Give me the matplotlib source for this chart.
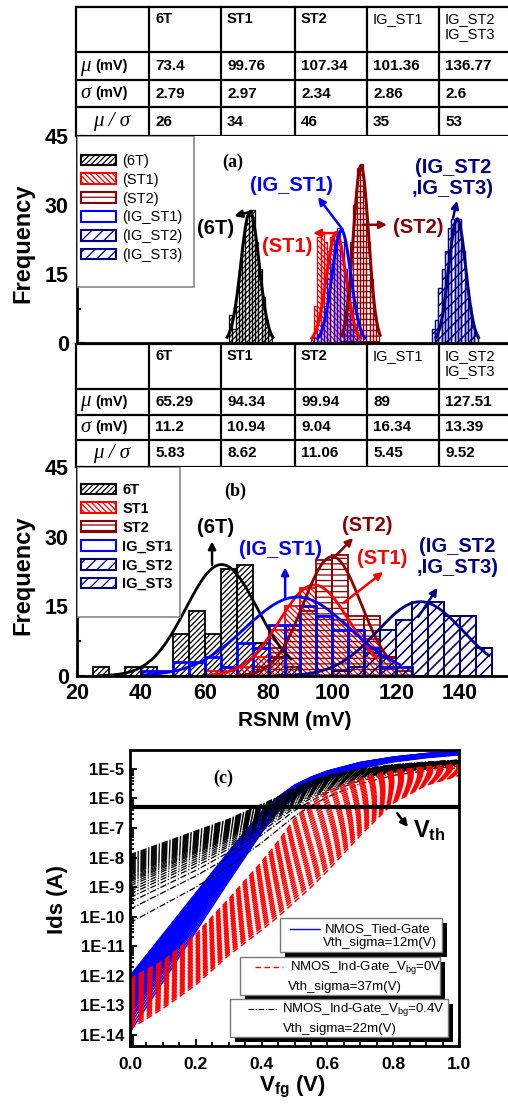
import numpy as np
import matplotlib.pyplot as plt
from matplotlib.patches import Patch, Rectangle
from matplotlib.ticker import (MultipleLocator, FixedLocator, NullFormatter,
                               FuncFormatter)

plt.rcParams['font.family'] = ['Liberation Sans', 'DejaVu Sans']
plt.rcParams['mathtext.fontset'] = 'custom'
plt.rcParams['mathtext.rm'] = 'Liberation Sans'
plt.rcParams['mathtext.it'] = 'Liberation Sans:italic'
plt.rcParams['mathtext.bf'] = 'Liberation Sans:bold'
plt.rcParams['hatch.linewidth'] = 0.9

# ==========================================
# DATA
# ==========================================

groups = ['6T', 'ST1', 'ST2', 'IG_ST1', 'IG_ST2', 'IG_ST3']
table_head = ['6T', 'ST1', 'ST2', 'IG_ST1', 'IG_ST2\nIG_ST3']

# table (a)
mu_a = ['73.4', '99.76', '107.34', '101.36', '136.77']
sigma_a = ['2.79', '2.97', '2.34', '2.86', '2.6']
ratio_a = ['26', '34', '46', '35', '53']

# table (b)
mu_b = ['65.29', '94.34', '99.94', '89', '127.51']
sigma_b = ['11.2', '10.94', '9.04', '16.34', '13.39']
ratio_b = ['5.83', '8.62', '11.06', '5.45', '9.52']

# histograms (a), 1 mV bins (left edge, count)
a_6t_x = [67, 68, 69, 70, 71, 72, 73, 74, 75, 76, 77, 78, 79]
a_6t_n = [6, 3, 8, 16, 20, 26, 29, 29, 22, 16, 10, 5, 2]
a_st1_x = [92, 93, 94, 95, 96, 97, 98, 99, 100, 101, 102, 103, 104, 105, 106]
a_st1_n = [1, 8, 23, 24, 22, 20, 23, 24, 22, 18, 12, 8, 5, 3, 1]
a_st2_x = [101, 102, 103, 104, 105, 106, 107, 108, 109, 110, 111, 112]
a_st2_n = [2, 6, 12, 22, 30, 38, 39, 30, 22, 14, 6, 3]
a_igst1_x = [93, 94, 95, 96, 97, 98, 99, 100, 101, 102, 103, 104, 105, 106]
a_igst1_n = [1, 2, 4, 8, 14, 20, 24, 25, 22, 16, 11, 6, 3, 1]
a_igst2_x = [129, 130, 131, 132, 133, 134, 135, 136, 137, 138, 139, 140, 141, 142]
a_igst2_n = [3, 5, 12, 16, 20, 25, 27, 27, 27, 20, 12, 8, 4, 2]

# histograms (b), 5 mV bins (left edge, count)
b_6t_x = [25, 35, 40, 50, 55, 60, 65, 70, 75, 80, 85]
b_6t_n = [2, 2, 2, 9, 14, 9, 23, 24, 7, 4, 2]
b_st1_x = [60, 65, 70, 75, 80, 85, 90, 95, 100, 105, 110, 115, 120]
b_st1_n = [1, 2, 2, 4, 10, 15, 19, 13, 12, 10, 8, 4, 2]
b_st2_x = [75, 80, 85, 90, 95, 100, 105, 110, 115, 120]
b_st2_n = [2, 6, 10, 14, 25, 26, 13, 13, 4, 1]
b_igst1_x = [40, 45, 50, 55, 60, 65, 70, 75, 80, 85, 90, 95, 100, 105, 110, 115, 120]
b_igst1_n = [1, 1, 3, 3, 4, 2, 7, 6, 11, 11, 15, 13, 10, 10, 6, 2, 2]
b_igst2_x = [100, 105, 110, 115, 120, 125, 130, 135, 140, 145]
b_igst2_n = [1, 2, 5, 10, 12, 16, 16, 13, 13, 6]

# gaussian fit curves: peak height, x range drawn
a_peak = [28.5, 24, 38.5, 24.5, 27]
b_peak = [24, 19.6, 25.7, 17, 16]
b_range = [(27, 87), (62, 114), (70, 118), (41, 121), (83, 149)]

# panel (c): Ids-Vfg envelopes (log10 A) and spread weights of the curve family
vfg = [0.0, 0.1, 0.2, 0.3, 0.4, 0.45, 0.5, 0.55, 0.6, 0.7, 0.8, 0.9, 1.0]
tied_hi = [-12.0, -10.6, -9.2, -7.8, -6.45, -5.95, -5.55, -5.28, -5.07, -4.78, -4.6, -4.48, -4.4]
tied_lo = [-13.9, -12.2, -10.5, -8.8, -7.15, -6.45, -5.95, -5.6, -5.33, -4.98, -4.76, -4.62, -4.52]
ind0_hi = [-12.1, -11.5, -10.6, -9.4, -8.15, -7.45, -6.7, -6.1, -5.75, -5.32, -5.07, -4.93, -4.85]
ind0_lo = [-13.8, -13.1, -12.3, -11.3, -10.45, -10.0, -9.5, -9.0, -8.45, -7.25, -6.15, -5.55, -5.22]
ind4_hi = [-7.9, -7.5, -7.1, -6.7, -6.2, -5.95, -5.65, -5.4, -5.22, -5.0, -4.86, -4.77, -4.7]
ind4_lo = [-10.2, -9.6, -9.0, -8.3, -7.5, -7.05, -6.6, -6.25, -5.95, -5.5, -5.22, -5.06, -4.96]
tied_w = [0.0, 0.02, 0.04, 0.06, 0.08, 0.1, 0.12, 0.14, 0.16, 0.18, 0.2, 0.22, 0.24, 0.26,
          0.28, 0.3, 0.32, 0.34, 0.36, 0.38, 0.4, 0.42, 0.44, 0.46, 0.48, 0.5, 0.53, 0.56,
          0.59, 0.62, 0.66, 0.7, 0.75, 0.8, 0.86, 0.93, 1.0]
ind0_w = [0.0, 0.03, 0.06, 0.09, 0.12, 0.15, 0.18, 0.21, 0.24, 0.27, 0.3, 0.33, 0.36, 0.39,
          0.42, 0.45, 0.48, 0.51, 0.54, 0.57, 0.6, 0.63, 0.66, 0.69, 0.72, 0.75, 0.78,
          0.81, 0.84, 0.87, 0.9, 0.93, 0.96, 1.0]
ind4_w = [0.0, 0.015, 0.03, 0.045, 0.06, 0.075, 0.09, 0.105, 0.12, 0.135, 0.15, 0.165, 0.18,
          0.195, 0.21, 0.225, 0.24, 0.255, 0.27, 0.285, 0.3, 0.32, 0.34, 0.36, 0.38, 0.4,
          0.43, 0.46, 0.5, 0.54, 0.58, 0.63, 0.7, 0.8, 1.0]
vth_level = 5e-7
ids_decades = [-14, -13, -12, -11, -10, -9, -8, -7, -6, -5]

colors = ['black', '#ff0000', '#8b0000', '#0000ff', '#000080', '#000080']
hatches = ['//////', '\\\\\\\\\\\\', '---', '', '///', '///']

# ==========================================
# LAYOUT HELPERS
# ==========================================

W, H = 508, 1104
fig = plt.figure(figsize=(5.08, 11.04), dpi=100)


def box(x0, y0, x1, y1):
    return [x0 / W, 1 - y1 / H, (x1 - x0) / W, (y1 - y0) / H]


col_x = [76, 149, 221, 295, 367, 439, 508]


def draw_table(rows_y, mu, sd, rt):
    ax = fig.add_axes(box(76, rows_y[0], 508, rows_y[-1]))
    ax.set_xlim(76, 508)
    ax.set_ylim(rows_y[-1], rows_y[0])
    ax.axis('off')
    for y in rows_y:
        ax.plot([76, 508], [y, y], color='black', lw=1.6, clip_on=False)
    for x in col_x[:-1]:
        ax.plot([x, x], [rows_y[0], rows_y[-1]], color='black', lw=1.6, clip_on=False)
    for i, h in enumerate(table_head):
        ax.text(col_x[i + 1] + 6, rows_y[0] + 5, h, ha='left', va='top', fontsize=10.5,
                fontweight='normal' if h.startswith('IG') else 'bold', linespacing=1.05)
    for r, vals in enumerate([mu, sd, rt]):
        yc = (rows_y[r + 1] + rows_y[r + 2]) / 2
        for i, v in enumerate(vals):
            ax.text(col_x[i + 1] + 6, yc, v, ha='left', va='center', fontsize=11,
                    fontweight='bold')
    serif = dict(family='Liberation Serif', style='italic', fontsize=15, va='center')
    y1 = (rows_y[1] + rows_y[2]) / 2
    y2 = (rows_y[2] + rows_y[3]) / 2
    y3 = (rows_y[3] + rows_y[4]) / 2
    ax.text(80, y1, '\u03bc', ha='left', **serif)
    ax.text(95, y1, '(mV)', ha='left', va='center', fontsize=10.5, fontweight='bold')
    ax.text(80, y2, '\u03c3', ha='left', **serif)
    ax.text(95, y2, '(mV)', ha='left', va='center', fontsize=10.5, fontweight='bold')
    ax.text(112, y3, '\u03bc / \u03c3', ha='center', **serif)


def style_hist_axes(ax):
    ax.set_ylim(0, 45)
    ax.yaxis.set_major_locator(MultipleLocator(15))
    ax.yaxis.set_minor_locator(MultipleLocator(7.5))
    ax.tick_params(axis='y', which='both', direction='in', labelsize=15.5, width=1.5, pad=6)
    ax.tick_params(axis='y', which='major', length=6)
    ax.tick_params(axis='y', which='minor', length=3)
    for lab in ax.get_yticklabels():
        lab.set_fontweight('bold')
    ax.spines['top'].set_visible(False)
    ax.spines['right'].set_visible(False)
    ax.spines['left'].set_linewidth(2)
    ax.spines['bottom'].set_linewidth(2)


def hist_legend(ax, labels, frame_right, frame_bottom, top_px, bold):
    x0 = (frame_right - 77) / 431
    ax.add_patch(Rectangle((0, frame_bottom), x0, 1 - frame_bottom, transform=ax.transAxes,
                           facecolor='white', edgecolor='#888888', lw=1.2, zorder=5))
    handles = [Patch(facecolor='white', edgecolor=c, hatch=h, lw=1.5)
               for c, h in zip(colors, hatches)]
    leg = ax.legend(handles, labels, loc='upper left', bbox_to_anchor=(0.01, top_px),
                    frameon=False, borderpad=0, borderaxespad=0, handlelength=2.4,
                    handleheight=0.75, handletextpad=0.4, labelspacing=0.33,
                    prop=dict(size=10.5, weight='bold' if bold else 'normal'))
    leg.set_zorder(6)


def arrow(ax, tail, head, color):
    ax.annotate('', xy=head, xytext=tail,
                arrowprops=dict(arrowstyle='-|>', color=color, lw=1.8, mutation_scale=11,
                                shrinkA=0, shrinkB=0))


# ==========================================
# TABLES
# ==========================================

draw_table([7, 52, 80, 107, 136], mu_a, sigma_a, ratio_a)
draw_table([344, 389, 415, 440, 467], mu_b, sigma_b, ratio_b)

# ==========================================
# PANEL (a)
# ==========================================

ax_a = fig.add_axes(box(77, 136, 508, 343))
ax_a.set_xlim(20.5, 152.3)
a_sets = [(a_6t_x, a_6t_n), (a_st1_x, a_st1_n), (a_st2_x, a_st2_n),
          (a_igst1_x, a_igst1_n), (a_igst2_x, a_igst2_n), (a_igst2_x, a_igst2_n)]
for (x, n), c, h in zip(a_sets, colors, hatches):
    ax_a.bar(x, n, width=1, align='edge', facecolor='none', edgecolor=c, hatch=h, lw=0.9)
for i, c in enumerate(colors[:5]):
    mu, sd = float(mu_a[i]), float(sigma_a[i])
    xs = np.linspace(mu - 2.5 * sd, mu + 2.5 * sd, 120)
    ax_a.plot(xs, a_peak[i] * np.exp(-0.5 * ((xs - mu) / sd) ** 2), color=c, lw=2.2)
style_hist_axes(ax_a)
ax_a.tick_params(axis='x', which='both', bottom=False, labelbottom=False)
hist_legend(ax_a, ['(6T)', '(ST1)', '(ST2)', '(IG_ST1)', '(IG_ST2)', '(IG_ST3)'],
            194, (343 - 287) / 207, (343 - 154) / 207, False)

lab = dict(fontsize=14.5, fontweight='bold', ha='center', va='center')
ax_a.text(68.2, 39.3, '(a)', family='Liberation Serif', fontsize=13, fontweight='bold',
          ha='center', va='center')
ax_a.text(63.0, 25.0, '(6T)', color='black', **lab)
arrow(ax_a, (73.4, 28.5), (68.6, 27.6), 'black')
ax_a.text(84.7, 20.9, '(ST1)', color=colors[1], **lab)
arrow(ax_a, (100, 23.9), (92.7, 23.9), colors[1])
ax_a.text(86.2, 34.3, '(IG_ST1)', color=colors[3], **lab)
arrow(ax_a, (101.8, 24.6), (94.2, 31.7), colors[3])
ax_a.text(125.0, 25.2, '(ST2)', color=colors[2], **lab)
arrow(ax_a, (108, 25.7), (115.3, 25.7), colors[2])
ax_a.text(135.5, 35.9, '(IG_ST2\n,IG_ST3)', color=colors[4], linespacing=1.15, **lab)
arrow(ax_a, (135.5, 27.2), (136.7, 30.9), colors[4])

# ==========================================
# PANEL (b)
# ==========================================

ax_b = fig.add_axes(box(77, 467, 508, 676))
ax_b.set_xlim(20, 155)
b_sets = [(b_6t_x, b_6t_n), (b_st1_x, b_st1_n), (b_st2_x, b_st2_n),
          (b_igst1_x, b_igst1_n), (b_igst2_x, b_igst2_n), (b_igst2_x, b_igst2_n)]
for (x, n), c, h in zip(b_sets, colors, hatches):
    ax_b.bar(x, n, width=5, align='edge', facecolor='none', edgecolor=c, hatch=h,
             lw=2 if h == '' else 1.3)
for i, c in enumerate(colors[:5]):
    mu, sd = float(mu_b[i]), float(sigma_b[i])
    xs = np.linspace(b_range[i][0], b_range[i][1], 200)
    ax_b.plot(xs, b_peak[i] * np.exp(-0.5 * ((xs - mu) / sd) ** 2), color=c, lw=2)
style_hist_axes(ax_b)
ax_b.xaxis.set_major_locator(MultipleLocator(20))
ax_b.xaxis.set_minor_locator(MultipleLocator(10))
ax_b.tick_params(axis='x', which='both', direction='in', labelsize=15.5, width=1.5, pad=5)
for t in ax_b.get_xticklabels():
    t.set_fontweight('bold')
hist_legend(ax_b, groups, 180, (676 - 617) / 209, (676 - 483) / 209, True)

ax_b.text(69.5, 39.7, '(b)', family='Liberation Serif', fontsize=13, fontweight='bold',
          ha='center', va='center')
ax_b.text(63.3, 31.9, '(6T)', color='black', **lab)
arrow(ax_b, (62.3, 23.9), (62.3, 29.0), 'black')
ax_b.text(83.6, 27.2, '(IG_ST1)', color=colors[3], **lab)
arrow(ax_b, (85.2, 17.0), (85.2, 23.4), colors[3])
ax_b.text(110.9, 32.5, '(ST2)', color=colors[2], **lab)
arrow(ax_b, (100.3, 25.4), (106.5, 29.7), colors[2])
ax_b.text(115.6, 25.4, '(ST1)', color=colors[1], **lab)
arrow(ax_b, (103.4, 15.7), (115.9, 22.4), colors[1])
ax_b.text(139.1, 25.6, '(IG_ST2\n,IG_ST3)', color=colors[4], linespacing=1.15, **lab)
arrow(ax_b, (126.9, 12.7), (132.9, 19.0), colors[4])

fig.text(23 / W, 1 - 243 / H, 'Frequency', rotation=90, fontsize=17, fontweight='bold',
         ha='center', va='center')
fig.text(23 / W, 1 - 575 / H, 'Frequency', rotation=90, fontsize=17, fontweight='bold',
         ha='center', va='center')
fig.text(295 / W, 1 - 720 / H, 'RSNM (mV)', fontsize=15, fontweight='bold',
         ha='center', va='center')

# ==========================================
# PANEL (c)
# ==========================================

ax_c = fig.add_axes(box(130, 750, 459, 1046))
ax_c.set_yscale('log')
v = np.array(vfg)
for w in tied_w:
    y = np.array(tied_hi) + w * (np.array(tied_lo) - np.array(tied_hi))
    ax_c.plot(v, 10 ** y, color='#0000ff', lw=1.1)
for w in ind4_w:
    y = np.array(ind4_hi) + w * (np.array(ind4_lo) - np.array(ind4_hi))
    ax_c.plot(v, 10 ** y, color='black', lw=0.9, linestyle=(0, (5, 1.5, 1, 1.5)))
for w in ind0_w:
    y = np.array(ind0_hi) + w * (np.array(ind0_lo) - np.array(ind0_hi))
    ax_c.plot(v, 10 ** y, color='#ff0000', lw=1.1, linestyle=(0, (4, 2.5)))
ax_c.axhline(vth_level, color='black', lw=3)

ax_c.set_xlim(0, 1)
ax_c.set_ylim(10 ** -14.37, 10 ** -4.36)
ax_c.xaxis.set_major_locator(MultipleLocator(0.2))
ax_c.xaxis.set_minor_locator(MultipleLocator(0.05))
ax_c.xaxis.set_major_formatter(FuncFormatter(lambda val, _: f'{val:.1f}'))
ax_c.yaxis.set_major_locator(FixedLocator([10.0 ** d for d in ids_decades]))
minor = [k * 10.0 ** d for d in ids_decades[:-1] + [-15] for k in range(2, 10)]
minor = [m for m in minor if 10 ** -14.37 < m < 10 ** -4.36]
ax_c.yaxis.set_minor_locator(FixedLocator(minor))
ax_c.yaxis.set_minor_formatter(NullFormatter())
ax_c.yaxis.set_major_formatter(FuncFormatter(lambda val, _: f'1E{int(round(np.log10(val)))}'))
ax_c.tick_params(which='both', direction='in', width=1.3)
ax_c.tick_params(which='major', length=5)
ax_c.tick_params(which='minor', length=3)
ax_c.tick_params(axis='y', labelsize=12, pad=4)
ax_c.tick_params(axis='x', labelsize=12.5, pad=8)
for t in ax_c.get_xticklabels() + ax_c.get_yticklabels():
    t.set_fontweight('bold')
for s in ax_c.spines.values():
    s.set_linewidth(2)

ax_c.text(0.283, 10 ** -5.32, '(c)', family='Liberation Serif', fontsize=13,
          fontweight='bold', ha='center', va='center')
arrow(ax_c, (0.812, 10 ** -6.5), (0.845, 10 ** -6.97), 'black')
ax_c.text(0.86, 10 ** -7.07, r'V$_{\mathbf{th}}$', fontsize=17, fontweight='bold',
          ha='left', va='center')


def cpx(x, y):
    return (x - 130) / 329, (1046 - y) / 296


def legend_box(x0, y0, x1, y1):
    ax0, ay1 = cpx(x0, y0)
    ax1, ay0 = cpx(x1, y1)
    sx, sy = 5 / 329, 5 / 296
    ax_c.add_patch(Rectangle((ax0 + sx, ay0 - sy), ax1 - ax0, ay1 - ay0,
                             transform=ax_c.transAxes, facecolor='black', lw=0, zorder=8))
    ax_c.add_patch(Rectangle((ax0, ay0), ax1 - ax0, ay1 - ay0, transform=ax_c.transAxes,
                             facecolor='white', edgecolor='#777777', lw=1, zorder=9))


def legend_text(x, y, s):
    tx, ty = cpx(x, y)
    ax_c.text(tx, ty, s, transform=ax_c.transAxes, fontsize=9.5, ha='left', va='center',
              zorder=10)


def legend_line(x0, x1, y, **kw):
    p0 = cpx(x0, y)
    p1 = cpx(x1, y)
    ax_c.plot([p0[0], p1[0]], [p0[1], p1[1]], transform=ax_c.transAxes, zorder=10, **kw)


legend_box(280, 918, 442, 952)
legend_line(290, 320, 929, color='#0000ff', lw=1)
legend_text(325, 929, 'NMOS_Tied-Gate')
legend_text(323, 943, 'Vth_sigma=12m(V)')

legend_box(240, 957, 440, 995)
legend_line(255, 283, 967, color='#ff0000', lw=1, linestyle=(0, (4, 2.5)))
legend_text(290, 967, r'NMOS_Ind-Gate_V$_{\mathrm{bg}}$=0V')
legend_text(288, 987, 'Vth_sigma=37m(V)')

legend_box(230, 999, 448, 1037)
legend_line(248, 277, 1009, color='black', lw=0.8, linestyle=(0, (5, 1.5, 1, 1.5)))
legend_text(282, 1009, r'NMOS_Ind-Gate_V$_{\mathrm{bg}}$=0.4V')
legend_text(283, 1029, 'Vth_sigma=22m(V)')

fig.text(57 / W, 1 - 900 / H, 'Ids (A)', rotation=90, fontsize=16, fontweight='bold',
         ha='center', va='center')
fig.text(293 / W, 1 - 1087 / H, r'V$_{\mathbf{fg}}$ (V)', fontsize=16, fontweight='bold',
         ha='center', va='center')

plt.savefig('out.png', dpi=100)
